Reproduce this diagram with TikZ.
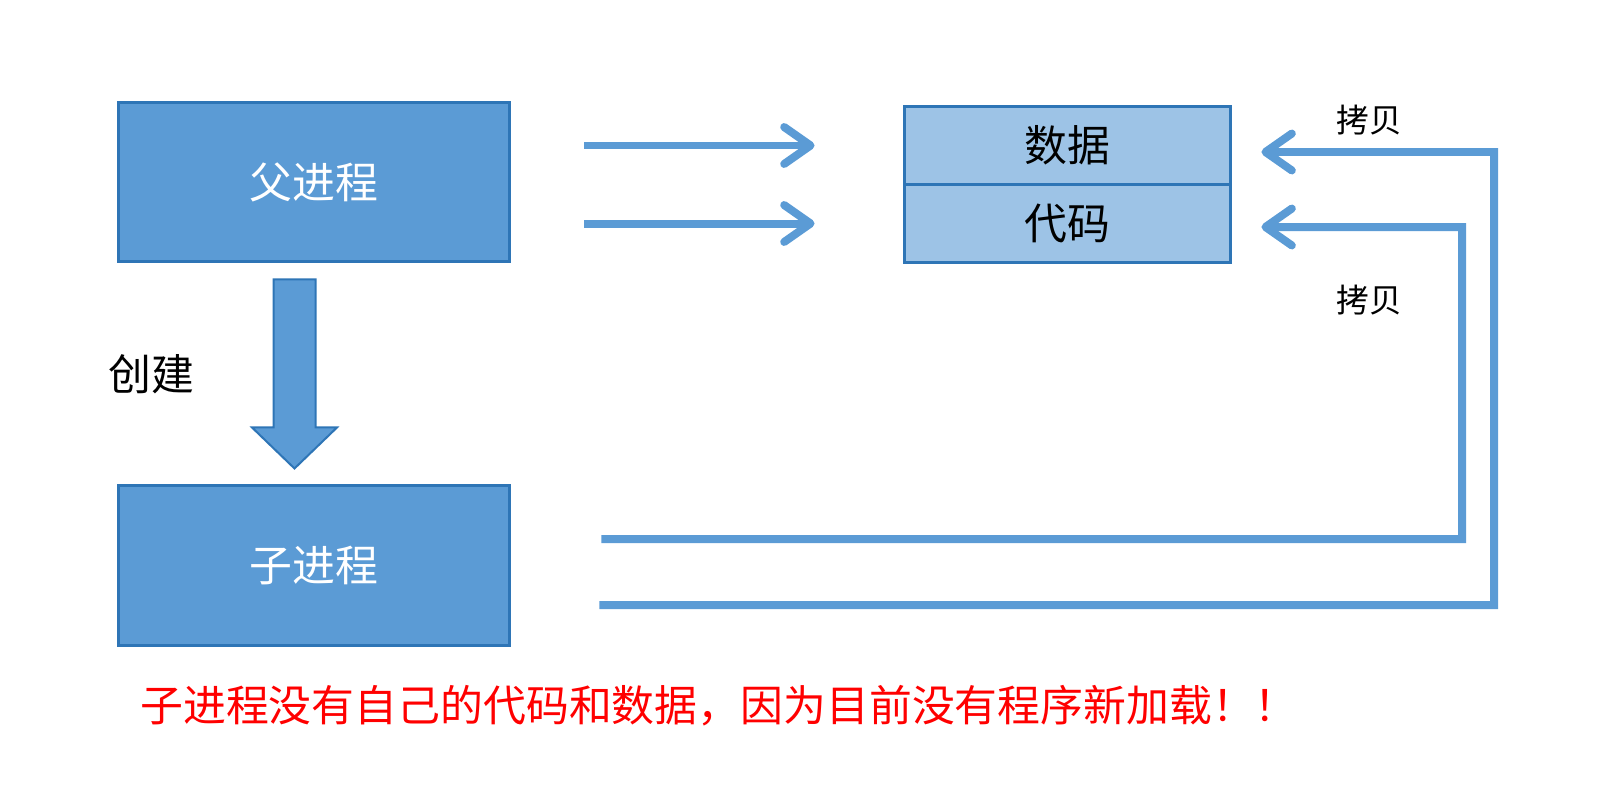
\documentclass[tikz,border=0pt]{standalone}
\usepackage{fontspec}
\setmainfont{Noto Sans CJK SC}
\usetikzlibrary{arrows.meta,positioning,calc}
\definecolor{procfill}{HTML}{5B9BD5}
\definecolor{procline}{HTML}{2E75B6}
\definecolor{segfill}{HTML}{9DC3E6}
\definecolor{flowline}{HTML}{5B9BD5}
\tikzset{
  procblk/.style={draw=procline,fill=procfill,line width=0.06cm,rectangle,minimum width=7.84cm,minimum height=3.2cm,inner sep=0pt,text=white,font=\fontsize{24.4pt}{28pt}\selectfont},
  segblk/.style={draw=procline,fill=segfill,line width=0.06cm,rectangle,minimum width=6.54cm,minimum height=1.56cm,inner sep=0pt,font=\fontsize{24.4pt}{28pt}\selectfont},
  flow/.style={draw=flowline,line width=0.16cm,-{Straight Barb[length=15pt,width=21pt,round]}},
  blockarr/.style={draw=procline,fill=procfill,line width=0.04cm},
  lbl/.style={font=\fontsize{24.4pt}{28pt}\selectfont,inner sep=0pt},
  smlbl/.style={font=\fontsize{18.6pt}{21pt}\selectfont,inner sep=0pt},
  note/.style={text=red,font=\fontsize{24.4pt}{28pt}\selectfont,inner sep=0pt}
}
\begin{document}
\begin{tikzpicture}[x=0.02cm,y=-0.02cm]
  \useasboundingbox (0,0) rectangle (1605,811);
  % Processes
  \node[procblk] (parent) at (314,182) {父进程};
  \node[procblk] (child) at (314,565.5) {子进程};

  % Data and code segments
  \node[segblk] (data) at (1067.5,145.5) {数据};
  \node[segblk] (code) at (1067.5,223.5) {代码};

  % Parent uses data and code
  \draw[flow] ($(parent.east |- data)+(73,0)$) -- ($(data.west)+(-88,0)$);
  \draw[flow] ($(parent.east |- code)+(73,0)$) -- ($(code.west)+(-88,0)$);

  % Create arrow
  \coordinate (spawntop) at ($(parent.south)+(-19.5,16)$);
  \draw[blockarr] ($(spawntop)+(-21,0)$) -- ($(spawntop)+(21,0)$) -- ($(spawntop)+(21,148)$)
    -- ($(spawntop)+(42.5,148)$) -- ($(spawntop)+(0,189)$) -- ($(spawntop)+(-42.5,148)$)
    -- ($(spawntop)+(-21,148)$) -- cycle;
  \node[lbl] (spawn) at (151,374) {创建};

  % Child copies code and data
  \draw[flow] ($(child.east)+(90,-26.5)$) -| (1462,227) -- ($(code.east)+(29,3.5)$);
  \draw[flow] ($(child.east)+(88,39.5)$) -| (1494,152) -- ($(data.east)+(29,6.5)$);
  \node[smlbl] (copytop) at (1369,120) {拷贝};
  \node[smlbl] (copybot) at (1369,300) {拷贝};

  % Note
  \node[note,anchor=west] (remark) at (140,706) {子进程没有自己的代码和数据，因为目前没有程序新加载！！};
\end{tikzpicture}
\end{document}
